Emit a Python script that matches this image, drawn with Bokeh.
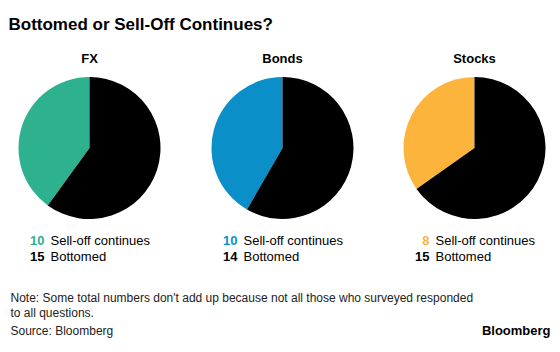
import math
from bokeh.plotting import figure
from bokeh.models import Range1d, ColumnDataSource
from bokeh.core.properties import value
from bokeh.embed import file_html
from bokeh.resources import INLINE

# ---- data ----
categories = ["FX", "Bonds", "Stocks"]
sell_off = [10, 10, 8]
bottomed = [15, 14, 15]
series_labels = ["Sell-off continues", "Bottomed"]
pie_colors = ["#2eb18f", "#0b8fc9", "#fdb43c"]
title_text = "Bottomed or Sell-Off Continues?"
note_lines = ["Note: Some total numbers don't add up because not all those who surveyed responded",
              "to all questions."]
source_text = "Source: Bloomberg"
brand_text = "Bloomberg"

W, H = 560, 352
FONT = "Liberation Sans"

def Y(py):
    return H - py

p = figure(width=W, height=H, output_backend="svg", toolbar_location=None,
           x_range=Range1d(0, W), y_range=Range1d(0, H),
           x_axis_type=None, y_axis_type=None, min_border=0)
p.outline_line_color = None
p.grid.visible = False
p.background_fill_color = "white"
p.border_fill_color = "white"

# layout
cx = [89, 282, 474]
cy = 147.5
r = 71

# wedges
ws = dict(x=[], y=[], start=[], end=[], color=[])
for i, cat in enumerate(categories):
    total = sell_off[i] + bottomed[i]
    f = sell_off[i] / total
    a0 = math.pi / 2
    a1 = a0 + 2 * math.pi * f
    ws["x"] += [cx[i], cx[i]]
    ws["y"] += [Y(cy), Y(cy)]
    ws["start"] += [a0, a1]
    ws["end"] += [a1, a0 + 2 * math.pi]
    ws["color"] += [pie_colors[i], "#000000"]
p.wedge(x="x", y="y", radius=r, start_angle="start", end_angle="end",
        fill_color="color", line_color=None, source=ColumnDataSource(ws))

# title
p.text(x=[8], y=[Y(24)], text=[title_text], text_font=value(FONT),
       text_font_size="17px", text_font_style="bold", text_color="#000000",
       text_baseline="middle", text_align="left")

# panel titles
p.text(x=cx, y=[Y(58)] * 3, text=categories, text_font=value(FONT),
       text_font_size="13px", text_font_style="bold", text_color="#000000",
       text_baseline="middle", text_align="center")

# legend numbers
num_x = [c - 45 for c in cx]
lab_x = [c - 39 for c in cx]
p.text(x=num_x, y=[Y(240)] * 3, text=[str(v) for v in sell_off], text_font=value(FONT),
       text_font_size="13px", text_font_style="bold", text_color=pie_colors,
       text_baseline="middle", text_align="right")
p.text(x=num_x, y=[Y(256)] * 3, text=[str(v) for v in bottomed], text_font=value(FONT),
       text_font_size="13px", text_font_style="bold", text_color="#000000",
       text_baseline="middle", text_align="right")
p.text(x=lab_x, y=[Y(240)] * 3, text=[series_labels[0]] * 3, text_font=value(FONT),
       text_font_size="13px", text_color="#000000",
       text_baseline="middle", text_align="left")
p.text(x=lab_x, y=[Y(256)] * 3, text=[series_labels[1]] * 3, text_font=value(FONT),
       text_font_size="13px", text_color="#000000",
       text_baseline="middle", text_align="left")

# note & source
p.text(x=[10, 10], y=[Y(297), Y(312)], text=note_lines, text_font=value(FONT),
       text_font_size="12px", text_color="#222222",
       text_baseline="middle", text_align="left")
p.text(x=[10], y=[Y(330)], text=[source_text], text_font=value(FONT),
       text_font_size="12px", text_color="#222222",
       text_baseline="middle", text_align="left")
p.text(x=[550], y=[Y(330)], text=[brand_text], text_font=value(FONT),
       text_font_size="13px", text_font_style="bold", text_color="#000000",
       text_baseline="middle", text_align="right")

open("out.html", "w").write(file_html(p, INLINE))
